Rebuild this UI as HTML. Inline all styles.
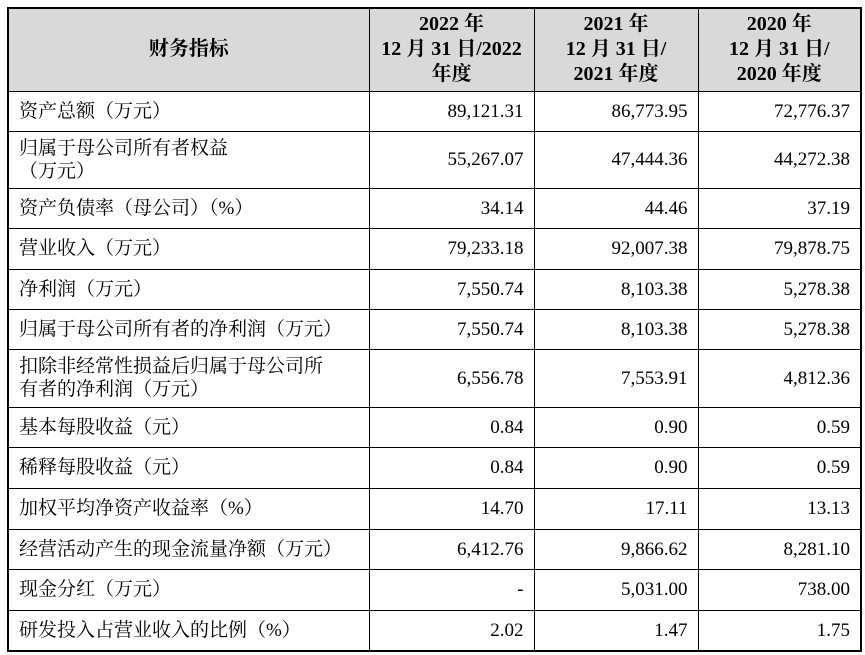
<!DOCTYPE html>
<html><head><meta charset="utf-8"><style>
body{margin:0;background:#fff;width:865px;height:655px;overflow:hidden;}
table{position:absolute;left:7px;top:7px;border-collapse:collapse;table-layout:fixed;font-family:"Liberation Serif","Noto Serif CJK SC","Noto Sans CJK SC",serif;font-size:19px;color:#000;border:2.5px solid #000;}
td{border:1.5px solid #000;padding:0 10px;line-height:23px;}
td.n{text-align:right;padding-right:10px;}
td.l{text-align:left;padding-left:10px;}
tr.h td{background:#d9d9d9;font-weight:bold;text-align:center;line-height:25px;padding:0 4px;font-size:20px;}
</style></head><body>
<table>
<colgroup><col style="width:361px"><col style="width:165px"><col style="width:164px"><col style="width:163px"></colgroup>
<tr class="h" style="height:83px"><td>财务指标</td><td>2022 年<br>12 月 31 日/2022<br>年度</td><td>2021 年<br>12 月 31 日/<br>2021 年度</td><td>2020 年<br>12 月 31 日/<br>2020 年度</td></tr>
<tr style="height:40px"><td class="l">资产总额（万元）</td><td class="n">89,121.31</td><td class="n">86,773.95</td><td class="n">72,776.37</td></tr>
<tr style="height:57px"><td class="l">归属于母公司所有者权益<br>（万元）</td><td class="n">55,267.07</td><td class="n">47,444.36</td><td class="n">44,272.38</td></tr>
<tr style="height:40px"><td class="l">资产负债率（母公司）（%）</td><td class="n">34.14</td><td class="n">44.46</td><td class="n">37.19</td></tr>
<tr style="height:41px"><td class="l">营业收入（万元）</td><td class="n">79,233.18</td><td class="n">92,007.38</td><td class="n">79,878.75</td></tr>
<tr style="height:40px"><td class="l">净利润（万元）</td><td class="n">7,550.74</td><td class="n">8,103.38</td><td class="n">5,278.38</td></tr>
<tr style="height:40px"><td class="l">归属于母公司所有者的净利润（万元）</td><td class="n">7,550.74</td><td class="n">8,103.38</td><td class="n">5,278.38</td></tr>
<tr style="height:58px"><td class="l">扣除非经常性损益后归属于母公司所<br>有者的净利润（万元）</td><td class="n">6,556.78</td><td class="n">7,553.91</td><td class="n">4,812.36</td></tr>
<tr style="height:40px"><td class="l">基本每股收益（元）</td><td class="n">0.84</td><td class="n">0.90</td><td class="n">0.59</td></tr>
<tr style="height:41px"><td class="l">稀释每股收益（元）</td><td class="n">0.84</td><td class="n">0.90</td><td class="n">0.59</td></tr>
<tr style="height:41px"><td class="l">加权平均净资产收益率（%）</td><td class="n">14.70</td><td class="n">17.11</td><td class="n">13.13</td></tr>
<tr style="height:40px"><td class="l">经营活动产生的现金流量净额（万元）</td><td class="n">6,412.76</td><td class="n">9,866.62</td><td class="n">8,281.10</td></tr>
<tr style="height:41px"><td class="l">现金分红（万元）</td><td class="n">-</td><td class="n">5,031.00</td><td class="n">738.00</td></tr>
<tr style="height:41px"><td class="l">研发投入占营业收入的比例（%）</td><td class="n">2.02</td><td class="n">1.47</td><td class="n">1.75</td></tr>
</table>
</body></html>
